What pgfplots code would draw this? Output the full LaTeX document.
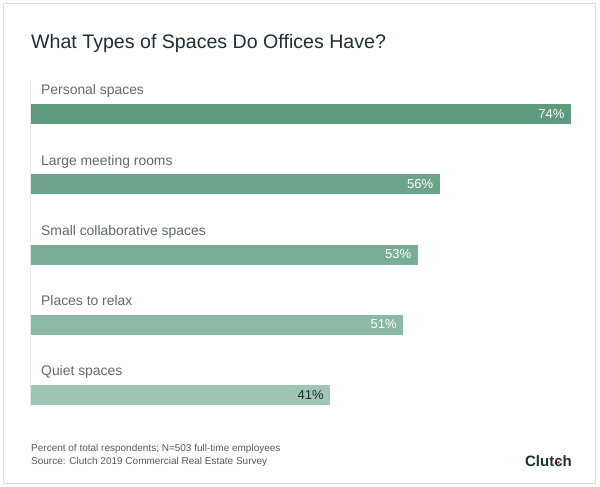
\documentclass[border=0pt]{standalone}
\usepackage{pgfplots}
\pgfplotsset{compat=1.18}
\usepackage{fontspec}
\setmainfont{Liberation Sans}
\definecolor{titlec}{HTML}{1F2F3A}
\definecolor{labc}{HTML}{5F6A70}
\definecolor{footc}{HTML}{5A5A5A}
\definecolor{frame}{HTML}{DDDDDD}
\definecolor{cA}{HTML}{5E9A7E}
\definecolor{cB}{HTML}{6CA38A}
\definecolor{cC}{HTML}{7AAD95}
\definecolor{cD}{HTML}{8CB9A3}
\definecolor{cE}{HTML}{A1C5B3}
\begin{document}
\begin{tikzpicture}[x=1pt,y=1pt]
\fill[white] (0,0) rectangle (600,487);
\draw[frame, line width=1pt] (3.5,3.5) rectangle (595.5,483.5);
\draw[frame!70, line width=1.5pt] (30.5,487-80) -- (30.5,487-407);
\node[anchor=base west, font=\fontsize{19.6}{22}\selectfont, text=titlec, inner sep=0pt] at (31,487-49) {What Types of Spaces Do Offices Have?};
\begin{axis}[
  at={(31pt,0pt)}, anchor=south west,
  scale only axis, width=540pt, height=487pt,
  xmin=0, xmax=74, ymin=0, ymax=487, y dir=reverse,
  axis lines=none, clip=false,
  /pgf/number format/assume math mode=true,
  xbar, bar width=20, bar shift=0pt,
  nodes near coords={\pgfmathprintnumber{\pgfplotspointmeta}\%},
  every node near coord/.append style={anchor=east, xshift=-3pt, font=\fontsize{13}{14}\selectfont, text=white},
]
\addplot[fill=cA, draw=none] coordinates {(74,114.3)};
\addplot[fill=cB, draw=none] coordinates {(56,184.5)};
\addplot[fill=cC, draw=none] coordinates {(53,254.5)};
\addplot[fill=cD, draw=none] coordinates {(51,324.5)};
\addplot[fill=cE, draw=none, every node near coord/.append style={text=titlec}] coordinates {(41,394.6)};
\node[anchor=base west, font=\fontsize{13.9}{15}\selectfont, text=labc, inner sep=0pt] at (axis cs:1.37,95) {Personal spaces};
\node[anchor=base west, font=\fontsize{13.9}{15}\selectfont, text=labc, inner sep=0pt] at (axis cs:1.37,165.3) {Large meeting rooms};
\node[anchor=base west, font=\fontsize{13.9}{15}\selectfont, text=labc, inner sep=0pt] at (axis cs:1.37,235.5) {Small collaborative spaces};
\node[anchor=base west, font=\fontsize{13.9}{15}\selectfont, text=labc, inner sep=0pt] at (axis cs:1.37,305.6) {Places to relax};
\node[anchor=base west, font=\fontsize{13.9}{15}\selectfont, text=labc, inner sep=0pt] at (axis cs:1.37,375.8) {Quiet spaces};
\end{axis}
\node[anchor=base west, font=\fontsize{10}{11}\selectfont, text=footc, inner sep=0pt] at (31,487-452) {Percent of total respondents; N=503 full-time employees};
\node[anchor=base west, font=\fontsize{10}{11}\selectfont, text=footc, inner sep=0pt] at (31,487-465) {Source: Clutch 2019 Commercial Real Estate Survey};
\node[anchor=base east, font=\fontsize{15}{17}\selectfont\bfseries, text=titlec, inner sep=0pt] at (572,487-467) {\sbox0{c}Clut\rlap{\hbox to\wd0{\hss\raisebox{0.22em}{\tikz\fill[red!85!black] (0,0) circle (1.3pt);}\hss}}ch};
\end{tikzpicture}
\end{document}
